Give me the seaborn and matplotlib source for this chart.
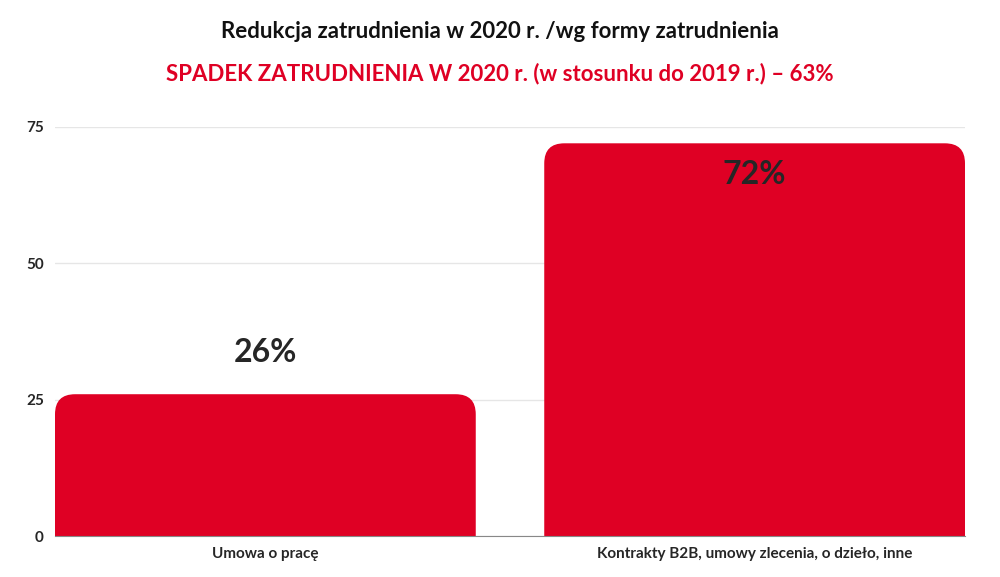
import matplotlib
matplotlib.use('Agg')
import matplotlib.pyplot as plt
import seaborn as sns
import pandas as pd
from matplotlib.patches import FancyBboxPatch

categories = ['Umowa o pracę', 'Kontrakty B2B, umowy zlecenia, o dzieło, inne']
values = [26, 72]
labels = ['26%', '72%']
yticks = [0, 25, 50, 75]

red = '#DF0024'
df = pd.DataFrame({'cat': categories, 'val': values})

sns.set_style('white')
plt.rcParams['font.family'] = ['Lato', 'DejaVu Sans']

fig = plt.figure(figsize=(10, 5.77), dpi=100)
ax = fig.add_axes([0.055, 0.071, 0.91, 0.709])
sns.barplot(data=df, x='cat', y='val', color=red, width=0.86, ax=ax, saturation=1)
ax.set_xlim(-0.43, 1.43)
ax.set_ylim(0, 75)

# swap plain bars for rounded ones
for p in list(ax.patches):
    x, w, h = p.get_x(), p.get_width(), p.get_height()
    p.remove()
    ax.add_patch(FancyBboxPatch((x + 0.041, -10), w - 0.082, h + 10 - 3.67,
                                boxstyle='round,pad=0,rounding_size=0.041',
                                mutation_aspect=89.5, facecolor=red, edgecolor='none'))
    # pad trick: extend shape to full width/height
for p in ax.patches:
    p.set_boxstyle('round', pad=0.0, rounding_size=0.041)

ax.patches[0].set_bounds(-0.43, -10, 0.86, values[0] + 10)
ax.patches[1].set_bounds(1 - 0.43, -10, 0.86, values[1] + 10)

ax.text(0, values[0] + 5, labels[0], ha='center', va='bottom', fontsize=23, fontweight='bold')
ax.text(1, values[1] - 3, labels[1], ha='center', va='top', fontsize=23, fontweight='bold')

ax.set_yticks(yticks)
ax.set_yticklabels([str(v) for v in yticks], fontweight='bold', fontsize=11)
ax.set_xticks([0, 1])
ax.set_xticklabels(categories, fontweight='bold', fontsize=11)
ax.tick_params(axis='both', length=0, pad=8)
ax.yaxis.grid(True, color='#e6e6e6', lw=1)
ax.set_axisbelow(True)
for s in ['top', 'right', 'left']:
    ax.spines[s].set_visible(False)
ax.spines['bottom'].set_color('#888888')
ax.set_xlabel('')
ax.set_ylabel('')

fig.text(0.5, 0.945, 'Redukcja zatrudnienia w 2020 r. /wg formy zatrudnienia',
         ha='center', va='center', fontsize=16, fontweight='bold', color='#111111')
fig.text(0.5, 0.873, 'SPADEK ZATRUDNIENIA W 2020 r. (w stosunku do 2019 r.) – 63%',
         ha='center', va='center', fontsize=16, fontweight='bold', color=red)

fig.savefig('out.png', dpi=100)
